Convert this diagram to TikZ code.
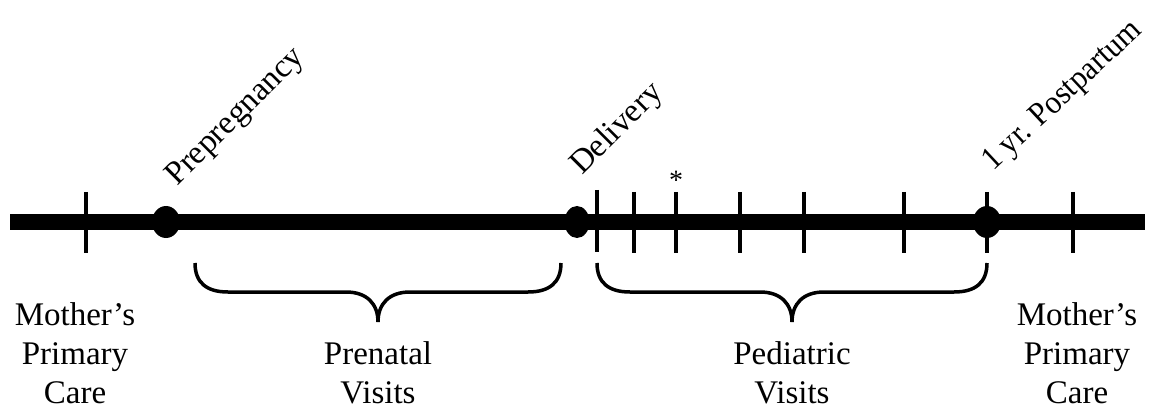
\documentclass[tikz,border=0pt]{standalone}
\usepackage{fontspec}
\setmainfont{Liberation Serif}
\usetikzlibrary{shapes.geometric}
\begin{document}
\begin{tikzpicture}[x=1pt,y=-1pt,
  axisline/.style={line width=15pt},
  tickmark/.style={line width=4.5pt},
  dotmark/.style={ellipse,fill=black,inner sep=0pt,minimum width=28pt,minimum height=32pt},
  bracepath/.style={line width=3.5pt},
  lbl/.style={inner sep=0pt,align=center,font=\fontsize{33}{39}\selectfont},
  rotlbl/.style={inner sep=0pt,anchor=base west,rotate=45,font=\fontsize{33}{39}\selectfont},
]
\useasboundingbox (0,0) rectangle (1156,414);
% timeline
\coordinate (L) at (10,222);
\coordinate (R) at (1145,222);
\draw[axisline] (L) -- (R);
% ticks
\foreach \x in {86,634,676,740,804,904,987,1073}
  \draw[tickmark] (\x,192) -- (\x,253);
\draw[tickmark] (597,190) -- (597,252);
% dots
\node[dotmark] (pre) at (166,222) {};
\node[dotmark,minimum width=25pt] (del) at (577,222) {};
\node[dotmark] (post) at (987,222) {};
% rotated labels
\node[rotlbl] (tpre) at (177,187) {Prepregnancy};
\node[rotlbl] (tdel) at (582,176) {Delivery};
\node[rotlbl,rotate=-2,xscale=0.93] (tpost) at (993,172) {1 yr. Postpartum};
% asterisk
\node[inner sep=0pt,font=\fontsize{28}{28}\selectfont] (ast) at (676,180) {*};
% braces
\draw[bracepath] (195,263) .. controls (195,283) and (207,292) .. (228,292) -- (346,292)
  .. controls (367,292) and (378,304) .. (378,322)
  .. controls (378,304) and (389,292) .. (410,292) -- (528,292)
  .. controls (549,292) and (561,283) .. (561,263);
\draw[bracepath] (597,263) .. controls (597,283) and (609,292) .. (630,292) -- (760,292)
  .. controls (781,292) and (792,304) .. (792,322)
  .. controls (792,304) and (803,292) .. (824,292) -- (954,292)
  .. controls (975,292) and (987,283) .. (987,263);
% bottom labels
\node[lbl,anchor=north] (mpc1) at (75,302.5) {Mother’s\\Primary\\Care};
\node[lbl,anchor=north] (prenatal) at (378,341.5) {Prenatal\\Visits};
\node[lbl,anchor=north] (pediatric) at (792,341.5) {Pediatric\\Visits};
\node[lbl,anchor=north] (mpc2) at (1077,302.5) {Mother’s\\Primary\\Care};
\end{tikzpicture}
\end{document}
